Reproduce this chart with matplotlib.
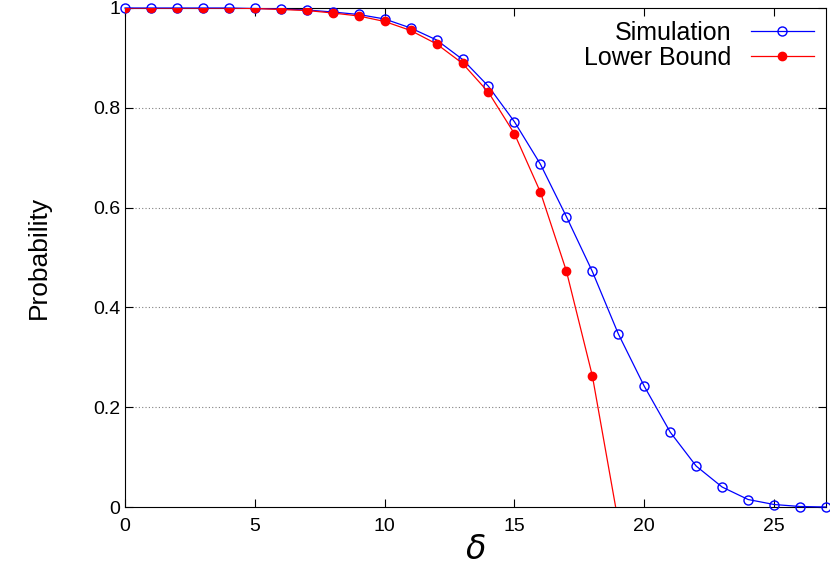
import matplotlib
matplotlib.use("Agg")
import matplotlib.pyplot as plt

plt.rcParams["font.family"] = "Liberation Sans"

delta = list(range(0, 28))
simulation = [1, 1, 1, 1, 1, 0.999, 0.998, 0.996, 0.992, 0.987, 0.978, 0.960, 0.936, 0.897,
              0.843, 0.772, 0.687, 0.582, 0.472, 0.347, 0.242, 0.150, 0.082, 0.040, 0.015,
              0.005, 0.001, 0.0]
delta_lb = list(range(0, 20))
lower_bound = [1, 1, 1, 1, 1, 0.999, 0.997, 0.995, 0.990, 0.984, 0.973, 0.955, 0.928, 0.889,
               0.831, 0.748, 0.631, 0.473, 0.263, -0.03]
yticks = [0, 0.2, 0.4, 0.6, 0.8, 1]
yticklabels = ["0", "0.2", "0.4", "0.6", "0.8", "1"]
xticks = [0, 5, 10, 15, 20, 25]

fig = plt.figure(figsize=(8.30, 5.87), dpi=100)
ax = fig.add_axes([125/830, 80/587, 701/830, 499/587])
ax.plot(delta, simulation, color="#0000ff", lw=0.9, marker="o", mfc="none", mec="#0000ff",
        ms=6.5, mew=1, label="Simulation", clip_on=False, zorder=3)
ax.plot(delta_lb, lower_bound, color="#ff0000", lw=0.9, marker="o", mfc="#ff0000", mec="#ff0000",
        ms=6, label="Lower Bound", zorder=4)
ax.set_xlim(0, 27)
ax.set_ylim(0, 1)
ax.set_xticks(xticks)
ax.set_yticks(yticks)
ax.set_yticklabels(yticklabels)
ax.tick_params(direction="in", labelsize=14, top=True, right=True, length=6)
ax.tick_params(axis="x", pad=8)
for y in yticks[1:-1]:
    ax.axhline(y, color="gray", lw=0.8, ls=(0, (1, 2)), zorder=1)
ax.set_xlabel(r"$\delta$", fontsize=24, labelpad=0)
ax.set_ylabel("Probability", fontsize=19, labelpad=30)
ax.legend(loc="upper right", markerfirst=False, frameon=False, fontsize=18,
          handlelength=2.5, borderaxespad=0.1, labelspacing=0.05)
fig.savefig("out.png", dpi=100)
